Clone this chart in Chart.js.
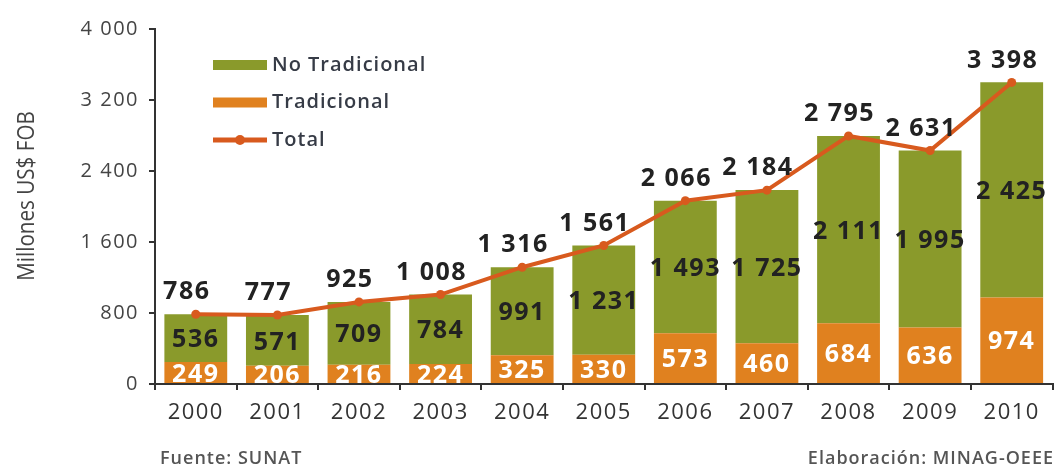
<!DOCTYPE html>
<html>
<head>
<meta charset="utf-8">
<script src="https://cdn.jsdelivr.net/npm/chart.js@4/dist/chart.umd.min.js"></script>
<style>
  body { margin: 0; background: #fff; }
  #exportChart { display: block; }
</style>
</head>
<body>
<canvas id="exportChart" width="1057" height="470"></canvas>
<script>
// Exportaciones agrarias 2000-2010 (millones US$ FOB)
const years = ['2000', '2001', '2002', '2003', '2004', '2005', '2006', '2007', '2008', '2009', '2010'];
const tradicional = [249, 206, 216, 224, 325, 330, 573, 460, 684, 636, 974];
const noTradicional = [536, 571, 709, 784, 991, 1231, 1493, 1725, 2111, 1995, 2425];
const total = [786, 777, 925, 1008, 1316, 1561, 2066, 2184, 2795, 2631, 3398];
const yTicks = [0, 800, 1600, 2400, 3200, 4000];

const GREEN = '#8a9a2b';
const ORANGE = '#e0811f';
const RED = '#d85a1e';
const FONT = '"Open Sans", "DejaVu Sans", sans-serif';

function fmt(v) {
    return String(v).replace(/\B(?=(\d{3})+(?!\d))/g, ' ');
}

// wider tracking for all the text on the canvas
const tracking = {
    id: 'tracking',
    beforeDraw(chart) {
        chart.ctx.letterSpacing = '1.5px';
    }
};

// value labels on the bar segments and above the total line
const valueLabels = {
    id: 'valueLabels',
    afterDatasetsDraw(chart) {
        const ctx = chart.ctx;
        ctx.save();
        ctx.letterSpacing = '1.5px';
        ctx.textAlign = 'center';
        ctx.textBaseline = 'middle';
        ctx.font = 'bold 25px ' + FONT;
        chart.data.datasets.forEach((ds, di) => {
            const meta = chart.getDatasetMeta(di);
            meta.data.forEach((el, i) => {
                const txt = fmt(ds.data[i]);
                if (ds.type === 'line') {
                    ctx.fillStyle = '#222';
                    ctx.fillText(txt, el.x - 9, el.y - 22);
                } else {
                    ctx.fillStyle = ds.labelColor;
                    ctx.fillText(txt, el.x, (el.y + el.base) / 2 + 2);
                }
            });
        });
        ctx.restore();
    }
};

// legend inside the plot, y title and source notes
const extras = {
    id: 'extras',
    afterDraw(chart) {
        const ctx = chart.ctx;
        const area = chart.chartArea;
        const order = [1, 0, 2];
        ctx.save();
        ctx.letterSpacing = '1px';
        ctx.font = '600 20px ' + FONT;
        ctx.textBaseline = 'middle';
        order.forEach((di, k) => {
            const ds = chart.data.datasets[di];
            const x = area.left + 58;
            const y = area.top + 36 + k * 37.5;
            if (ds.type === 'line') {
                ctx.strokeStyle = ds.borderColor;
                ctx.lineWidth = 5;
                ctx.beginPath();
                ctx.moveTo(x, y);
                ctx.lineTo(x + 54, y);
                ctx.stroke();
                ctx.fillStyle = ds.borderColor;
                ctx.beginPath();
                ctx.arc(x + 27, y, 5, 0, Math.PI * 2);
                ctx.fill();
            } else {
                ctx.fillStyle = ds.backgroundColor;
                ctx.fillRect(x, y - 5, 54, 10);
            }
            ctx.fillStyle = '#363b46';
            ctx.fillText(ds.label, x + 59, y);
        });

        // rotated axis title, narrowed along its length
        ctx.save();
        ctx.letterSpacing = '0px';
        ctx.translate(27, 196);
        ctx.rotate(-Math.PI / 2);
        ctx.scale(0.86, 1);
        ctx.font = '24px ' + FONT;
        ctx.fillStyle = '#444';
        ctx.textAlign = 'center';
        ctx.fillText('Millones US$ FOB', 0, 0);
        ctx.restore();

        ctx.letterSpacing = '1px';
        ctx.font = '600 18px ' + FONT;
        ctx.fillStyle = '#555';
        ctx.textAlign = 'left';
        ctx.fillText('Fuente: SUNAT', 160, 459);
        ctx.textAlign = 'right';
        ctx.fillText('Elaboración: MINAG-OEEE', 1054, 459);
        ctx.restore();
    }
};

const chart = new Chart(document.getElementById('exportChart'), {
    data: {
        labels: years,
        datasets: [
            {
                type: 'bar',
                label: 'Tradicional',
                data: tradicional,
                backgroundColor: ORANGE,
                labelColor: '#fff',
                stack: 'exp',
                order: 1,
                barPercentage: 0.77,
                categoryPercentage: 1
            },
            {
                type: 'bar',
                label: 'No Tradicional',
                data: noTradicional,
                backgroundColor: GREEN,
                labelColor: '#222',
                stack: 'exp',
                order: 1,
                barPercentage: 0.77,
                categoryPercentage: 1
            },
            {
                type: 'line',
                label: 'Total',
                data: total,
                borderColor: RED,
                backgroundColor: RED,
                borderWidth: 4,
                pointRadius: 4.5,
                pointBackgroundColor: RED,
                pointBorderWidth: 0,
                tension: 0,
                stack: 'total',
                order: 0
            }
        ]
    },
    options: {
        responsive: false,
        animation: false,
        layout: { padding: { top: 29, bottom: 40, left: 0, right: 0 } },
        plugins: {
            legend: { display: false },
            tooltip: { enabled: false }
        },
        scales: {
            x: {
                stacked: true,
                offset: true,
                grid: { display: true, drawOnChartArea: false, offset: true, tickLength: 6, color: '#333', lineWidth: 2 },
                border: { color: '#333', width: 2 },
                ticks: { color: '#333', font: { family: FONT, size: 22 }, padding: 10, maxRotation: 0 },
                afterFit(scale) { scale.height = 46; }
            },
            y: {
                stacked: true,
                min: 0,
                max: 4000,
                afterBuildTicks(scale) { scale.ticks = yTicks.map(v => ({ value: v })); },
                grid: { display: true, drawOnChartArea: false, tickLength: 6, color: '#333', lineWidth: 2 },
                border: { color: '#333', width: 2 },
                ticks: { color: '#444', font: { family: FONT, size: 20 }, padding: 10, callback: v => fmt(v) },
                afterFit(scale) { scale.width = 155; }
            }
        }
    },
    plugins: [tracking, valueLabels, extras]
});
</script>
</body>
</html>
